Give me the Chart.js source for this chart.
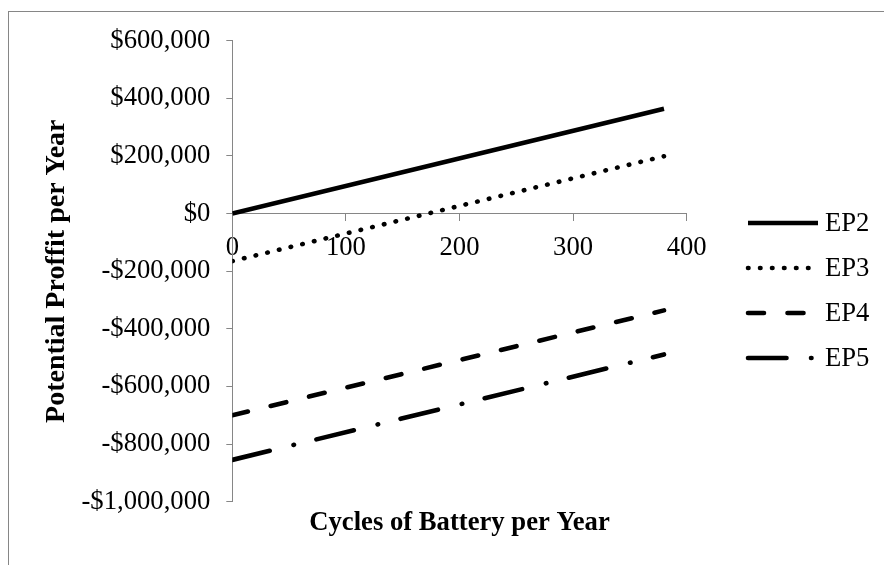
<!DOCTYPE html>
<html>
<head>
<meta charset="utf-8">
<script src="https://cdn.jsdelivr.net/npm/chart.js@4"></script>
<style>
  html, body { margin: 0; padding: 0; background: #fff; }
  #wrap { width: 884px; height: 565px; position: relative; }
</style>
</head>
<body>
<div id="wrap"><canvas id="c" width="884" height="565"></canvas></div>
<script>
// ---- data ----
const cycles = [0, 380];
const seriesNames = ['EP2', 'EP3', 'EP4', 'EP5'];
const ep2 = [0, 364000];
const ep3 = [-165000, 199000];
const ep4 = [-700000, -336000];
const ep5 = [-855000, -489000];
const xTicks = [0, 100, 200, 300, 400];
const yTicks = [-1000000, -800000, -600000, -400000, -200000, 0, 200000, 400000, 600000];

// ---- styles ----
const FONT = 'Liberation Serif';
const FS = 26.67;
const AXIS_GRAY = '#868686';
const styles = [
  { borderDash: [], cap: 'butt' },
  { borderDash: [0.5, 11.5], cap: 'round' },
  { borderDash: [16, 23.5], cap: 'round' },
  { borderDash: [38.5, 24.5, 0.5, 23.1], cap: 'round' }
];
const values = [ep2, ep3, ep4, ep5];

function money(v) {
  const s = Math.abs(v).toFixed(0).replace(/\B(?=(\d{3})+(?!\d))/g, ',');
  return (v < 0 ? '-$' : '$') + s;
}

const datasets = seriesNames.map((name, i) => ({
  label: name,
  data: cycles.map((c, j) => ({ x: c, y: values[i][j] })),
  borderColor: '#000',
  backgroundColor: '#000',
  borderWidth: 4.6,
  borderDash: styles[i].borderDash,
  borderCapStyle: styles[i].cap,
  pointRadius: 0,
  fill: false,
  tension: 0
}));

const frame = {
  id: 'frame',
  beforeDraw(chart) {
    const ctx = chart.ctx;
    ctx.save();
    ctx.fillStyle = '#fff';
    ctx.fillRect(0, 0, chart.width, chart.height);
    ctx.strokeStyle = AXIS_GRAY;
    ctx.lineWidth = 1;
    ctx.strokeRect(8.5, 11.5, 1000, 1000);
    ctx.restore();
  }
};

const LEG = { x0: 748, x1: 818, textX: 825, y0: 223, dy: 45 };
const legendPlugin = {
  id: 'customLegend',
  afterDraw(chart) {
    const ctx = chart.ctx;
    ctx.save();
    chart.data.datasets.forEach((ds, i) => {
      const y = LEG.y0 + LEG.dy * i;
      ctx.beginPath();
      ctx.strokeStyle = ds.borderColor;
      ctx.lineWidth = ds.borderWidth;
      ctx.lineCap = ds.borderCapStyle;
      ctx.setLineDash(ds.borderDash);
      ctx.moveTo(LEG.x0, y);
      ctx.lineTo(LEG.x1, y);
      ctx.stroke();
      ctx.setLineDash([]);
      ctx.fillStyle = '#000';
      ctx.font = FS + 'px "' + FONT + '"';
      ctx.textBaseline = 'middle';
      ctx.textAlign = 'left';
      ctx.fillText(ds.label, LEG.textX, y + 1);
    });
    ctx.restore();
  }
};

Chart.defaults.font.family = FONT;
Chart.defaults.font.size = FS;
Chart.defaults.color = '#000';

new Chart(document.getElementById('c'), {
  type: 'line',
  data: { datasets },
  plugins: [frame, legendPlugin],
  options: {
    responsive: false,
    animation: false,
    devicePixelRatio: 1,
    layout: { padding: { left: 0, top: 40.7, right: 197.3, bottom: 0 } },
    plugins: { legend: { display: false }, tooltip: { enabled: false } },
    scales: {
      x: {
        type: 'linear',
        position: { y: 0 },
        min: 0, max: 400,
        afterBuildTicks: s => { s.ticks = xTicks.map(v => ({ value: v })); },
        afterFit: s => { s.height = 0; },
        ticks: { padding: 11, color: '#000', font: { size: FS, family: FONT } },
        grid: { display: true, drawOnChartArea: false, drawTicks: true, tickLength: 7, color: AXIS_GRAY },
        border: { display: true, color: AXIS_GRAY, width: 1 }
      },
      x2: {
        type: 'linear',
        axis: 'x',
        position: 'bottom',
        min: 0, max: 400,
        ticks: { display: false },
        grid: { display: false, drawTicks: false },
        border: { display: false },
        title: {
          display: true,
          text: 'Cycles of Battery per Year',
          color: '#000',
          font: { size: FS, weight: 'bold', family: FONT },
          padding: { top: 5.3, bottom: 26 }
        }
      },
      y: {
        type: 'linear',
        min: -1000000, max: 600000,
        afterBuildTicks: s => { s.ticks = yTicks.map(v => ({ value: v })); },
        afterFit: s => { s.width = 232.3; },
        ticks: { padding: 16, color: '#000', font: { size: FS, family: FONT }, callback: v => money(v) },
        grid: { display: true, drawOnChartArea: false, drawTicks: true, tickLength: 6, color: AXIS_GRAY },
        border: { display: true, color: AXIS_GRAY, width: 1 },
        title: {
          display: true,
          text: 'Potential Proffit per Year',
          color: '#000',
          font: { size: 28, weight: 'bold', family: FONT },
          padding: { top: 40.2, bottom: 0 }
        }
      }
    }
  }
});
</script>
</body>
</html>
